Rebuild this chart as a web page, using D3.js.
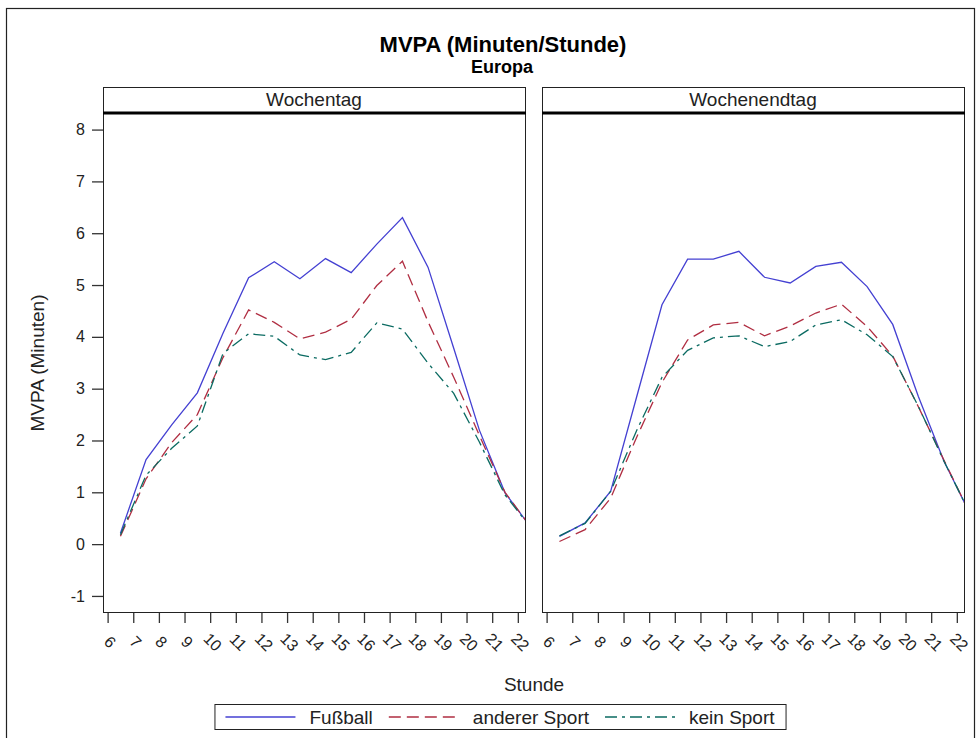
<!DOCTYPE html>
<html>
<head>
<meta charset="utf-8">
<script src="https://cdn.jsdelivr.net/npm/d3@7"></script>
<style>
  body { margin: 0; background: #fff; }
  svg { display: block; font-family: "Liberation Sans", Arial, sans-serif; }
  .tick text { font-size: 16px; fill: #222; }
  .domain { display: none; }
  .tick line { stroke: #333; }
</style>
</head>
<body>
<svg id="chart" width="978" height="738"></svg>
<script>
// Stunde (Datenpunkte liegen jeweils in der Mitte der Stunde)
const hours = [6.5, 7.5, 8.5, 9.5, 10.5, 11.5, 12.5, 13.5, 14.5, 15.5, 16.5, 17.5, 18.5, 19.5, 20.5, 21.5, 22.5];
const xTicks = [6, 7, 8, 9, 10, 11, 12, 13, 14, 15, 16, 17, 18, 19, 20, 21, 22];
const yTicks = [-1, 0, 1, 2, 3, 4, 5, 6, 7, 8];
const panels = ["Wochentag", "Wochenendtag"];
const groups = ["Fußball", "anderer Sport", "kein Sport"];

// Wochentag
const fussballWT = [0.21, 1.63, 2.30, 2.92, 4.07, 5.14, 5.45, 5.12, 5.51, 5.24, 5.79, 6.30, 5.34, 3.78, 2.20, 0.99, 0.33];
const andererWT  = [0.15, 1.26, 1.96, 2.50, 3.60, 4.52, 4.28, 3.96, 4.09, 4.34, 4.99, 5.46, 4.29, 3.22, 2.10, 1.00, 0.33];
const keinWT     = [0.18, 1.33, 1.85, 2.28, 3.68, 4.06, 4.01, 3.65, 3.56, 3.70, 4.27, 4.15, 3.49, 2.91, 1.97, 0.95, 0.32];
// Wochenendtag
const fussballWE = [0.15, 0.41, 1.02, 2.82, 4.62, 5.50, 5.50, 5.65, 5.15, 5.04, 5.36, 5.44, 4.97, 4.24, 2.85, 1.60, 0.60];
const andererWE  = [0.05, 0.28, 0.89, 2.05, 3.12, 3.94, 4.23, 4.28, 4.02, 4.21, 4.46, 4.63, 4.20, 3.63, 2.65, 1.62, 0.60];
const keinWE     = [0.16, 0.40, 1.02, 2.18, 3.22, 3.74, 3.98, 4.02, 3.81, 3.91, 4.23, 4.33, 4.04, 3.62, 2.66, 1.60, 0.60];

const panelSeries = [
    [fussballWT, andererWT, keinWT],
    [fussballWE, andererWE, keinWE]
];

const colors = ["#4440d2", "#b02e42", "#0b6b62"];
const dashes = [null, "12,6", "12,5,3,5"];

const svg = d3.select("#chart");

// Rahmen um die ganze Grafik
svg.append("rect")
    .attr("x", 6.5).attr("y", 8.5)
    .attr("width", 968).attr("height", 740)
    .attr("fill", "none").attr("stroke", "#222").attr("stroke-width", 1.2);

// Titel
svg.append("text")
    .attr("x", 503).attr("y", 52)
    .attr("text-anchor", "middle")
    .style("font-size", "22px").style("font-weight", "bold")
    .text("MVPA (Minuten/Stunde)");
svg.append("text")
    .attr("x", 502).attr("y", 73)
    .attr("text-anchor", "middle")
    .style("font-size", "18px").style("font-weight", "bold")
    .text("Europa");

const stripTop = 87, plotTop = 113, plotBottom = 612;
const panelLeft = [103, 542];
const panelWidth = 422;

const y = d3.scaleLinear().domain([-1.31, 8.32]).range([plotBottom, plotTop]);

panels.forEach((name, p) => {
    const x0 = panelLeft[p];
    const x = d3.scaleLinear().domain([5.82, 22.28]).range([x0, x0 + panelWidth]);
    const g = svg.append("g");

    // Kopfzeile
    g.append("rect")
        .attr("x", x0 + 0.5).attr("y", stripTop + 0.5)
        .attr("width", panelWidth).attr("height", plotTop - stripTop)
        .attr("fill", "#fff").attr("stroke", "#222");
    g.append("text")
        .attr("x", x0 + panelWidth / 2).attr("y", stripTop + 19)
        .attr("text-anchor", "middle")
        .style("font-size", "19px").attr("fill", "#222")
        .text(name);

    // Zeichenfläche
    g.append("rect")
        .attr("x", x0 + 0.5).attr("y", plotTop + 0.5)
        .attr("width", panelWidth).attr("height", plotBottom - plotTop)
        .attr("fill", "#fff").attr("stroke", "#222");
    g.append("line")
        .attr("x1", x0).attr("x2", x0 + panelWidth + 1)
        .attr("y1", plotTop).attr("y2", plotTop)
        .attr("stroke", "#000").attr("stroke-width", 3);

    g.append("clipPath").attr("id", `clip${p}`)
        .append("rect")
        .attr("x", x0 + 1).attr("y", plotTop + 2)
        .attr("width", panelWidth - 1).attr("height", plotBottom - plotTop - 2);

    const line = d3.line().x((d, i) => x(hours[i])).y(d => y(d));

    g.append("g").attr("clip-path", `url(#clip${p})`)
        .selectAll("path")
        .data(panelSeries[p])
        .enter()
        .append("path")
        .attr("d", d => line(d))
        .attr("fill", "none")
        .attr("stroke", (d, i) => colors[i])
        .attr("stroke-width", 1.3)
        .attr("stroke-dasharray", (d, i) => dashes[i]);

    // x-Achse
    const xAxis = g.append("g")
        .attr("transform", `translate(0,${plotBottom + 1})`)
        .call(d3.axisBottom(x).tickValues(xTicks).tickSize(10).tickSizeOuter(0).tickFormat(d => String(d)));
    xAxis.selectAll(".tick line").attr("stroke-width", 1.3);
    xAxis.selectAll(".tick text")
        .attr("text-anchor", "middle")
        .attr("dy", null)
        .attr("y", 0)
        .attr("transform", "translate(-2,33) rotate(45)");

    // y-Achse nur links
    if (p === 0) {
        const yAxis = g.append("g")
            .attr("transform", `translate(${x0},0)`)
            .call(d3.axisLeft(y).tickValues(yTicks).tickSize(11).tickSizeOuter(0).tickPadding(7)
                .tickFormat(d => String(d)));
        yAxis.selectAll(".tick line").attr("stroke-width", 1.3);
    }
});

// Achsentitel
svg.append("text")
    .attr("transform", "translate(44,363) rotate(-90)")
    .attr("text-anchor", "middle")
    .style("font-size", "19px").attr("fill", "#222")
    .text("MVPA (Minuten)");
svg.append("text")
    .attr("x", 534).attr("y", 691)
    .attr("text-anchor", "middle")
    .style("font-size", "19px").attr("fill", "#222")
    .text("Stunde");

// Legende
const legend = svg.append("g");
const legendItems = legend.selectAll("g.item")
    .data(groups)
    .enter()
    .append("g")
    .attr("class", "item");
legendItems.append("line")
    .attr("x1", 0).attr("x2", 70)
    .attr("y1", 0).attr("y2", 0)
    .attr("stroke", (d, i) => colors[i])
    .attr("stroke-width", 1.3)
    .attr("stroke-dasharray", (d, i) => dashes[i]);
legendItems.append("text")
    .attr("x", 84).attr("y", 7)
    .style("font-size", "19px").attr("fill", "#222")
    .text(d => d);

let cursor = 0;
const offsets = [];
legendItems.each(function () {
    const w = 84 + d3.select(this).select("text").node().getComputedTextLength();
    offsets.push(cursor);
    cursor += w + 16;
});
const legendWidth = cursor - 16 + 22;
const legendLeft = 500 - legendWidth / 2;
legendItems.attr("transform", (d, i) => `translate(${legendLeft + 11 + offsets[i]},717)`);
legend.insert("rect", ":first-child")
    .attr("x", legendLeft + 0.5).attr("y", 704.5)
    .attr("width", legendWidth).attr("height", 25)
    .attr("fill", "#fff").attr("stroke", "#222");
</script>
</body>
</html>
